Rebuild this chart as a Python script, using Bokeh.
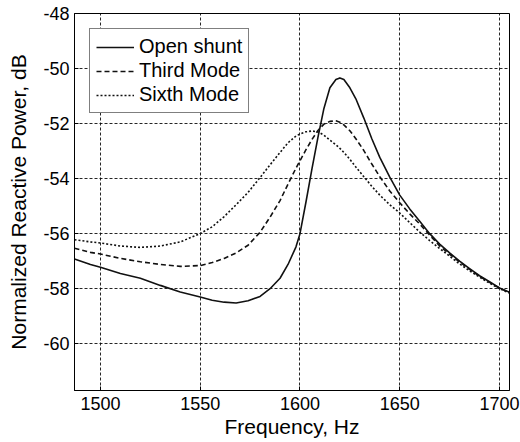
from bokeh.plotting import figure
from bokeh.models import FixedTicker, Range1d, Legend, LegendItem, CustomJSTickFormatter
from bokeh.embed import file_html
from bokeh.resources import INLINE

freq = [1487, 1495, 1500, 1510, 1520, 1530, 1540, 1550, 1556, 1562, 1568, 1574,
        1580, 1585, 1590, 1594, 1598, 1600, 1603, 1606, 1609, 1612, 1615, 1618,
        1620, 1622, 1625, 1628, 1632, 1636, 1640, 1645, 1650, 1655, 1660, 1665,
        1670, 1675, 1680, 1685, 1690, 1695, 1700, 1705]

open_shunt = [-56.92, -57.12, -57.22, -57.45, -57.62, -57.88, -58.12, -58.30, -58.42, -58.49, -58.52, -58.44,
              -58.28, -58.00, -57.62, -57.12, -56.48, -56.00, -54.85, -53.65, -52.50, -51.45, -50.70, -50.40,
              -50.34, -50.40, -50.70, -51.10, -51.80, -52.55, -53.23, -53.95, -54.60, -55.10, -55.55, -56.00,
              -56.38, -56.70, -57.00, -57.27, -57.53, -57.75, -57.97, -58.13]

third_mode = [-56.53, -56.68, -56.74, -56.90, -57.02, -57.12, -57.19, -57.16, -57.05, -56.90, -56.70, -56.42,
              -55.95, -55.40, -54.80, -54.20, -53.62, -53.35, -52.95, -52.58, -52.25, -52.02, -51.92, -51.90,
              -51.95, -52.05, -52.26, -52.55, -52.98, -53.47, -53.93, -54.45, -54.88, -55.28, -55.65, -56.05,
              -56.45, -56.75, -57.03, -57.30, -57.55, -57.77, -57.98, -58.14]

sixth_mode = [-56.22, -56.30, -56.34, -56.45, -56.50, -56.45, -56.30, -56.00, -55.75, -55.38, -54.95, -54.50,
              -53.96, -53.50, -53.05, -52.70, -52.45, -52.38, -52.30, -52.27, -52.30, -52.42, -52.60, -52.77,
              -52.90, -53.05, -53.30, -53.58, -53.93, -54.28, -54.60, -54.95, -55.25, -55.60, -55.94, -56.25,
              -56.54, -56.82, -57.10, -57.35, -57.58, -57.80, -58.00, -58.16]

x_ticks = [1500, 1550, 1600, 1650, 1700]
y_ticks = [-60, -58, -56, -54, -52, -50, -48]

FONT = "Liberation Sans"

p = figure(width=520, height=442, output_backend="svg", toolbar_location=None,
           x_range=Range1d(1487, 1705), y_range=Range1d(-61.7, -48),
           min_border_left=74, min_border_right=11, min_border_top=13, min_border_bottom=52)
p.background_fill_color = "white"
p.border_fill_color = "white"
p.outline_line_color = "black"
p.outline_line_width = 1

r1 = p.line(freq, open_shunt, line_color="#111111", line_width=1.6, line_join="round")
r2 = p.line(freq, third_mode, line_color="#111111", line_width=1.6, line_dash="5 3", line_join="round")
r3 = p.line(freq, sixth_mode, line_color="#111111", line_width=1.6, line_dash="2 2", line_join="round")

for ax in (p.xaxis[0], p.yaxis[0]):
    ax.axis_line_color = "black"
    ax.major_tick_line_color = "black"
    ax.major_tick_in = 4
    ax.major_tick_out = 0
    ax.minor_tick_line_color = None
    ax.major_label_text_font = FONT
    ax.major_label_text_font_size = "18px"
    ax.major_label_text_color = "black"
    ax.axis_label_text_font = FONT
    ax.axis_label_text_font_size = "21px"
    ax.axis_label_text_font_style = "normal"
    ax.axis_label_text_color = "black"
    ax.formatter = CustomJSTickFormatter(code="return String(tick);")

p.xaxis.ticker = FixedTicker(ticks=x_ticks)
p.yaxis.ticker = FixedTicker(ticks=y_ticks)
p.xaxis.axis_label = "Frequency, Hz"
p.yaxis.axis_label = "Normalized Reactive Power, dB"
p.xaxis.major_label_standoff = 6
p.xaxis.axis_label_standoff = 2
p.yaxis.major_label_standoff = 5
p.yaxis.axis_label_standoff = 10

for g in (p.xgrid[0], p.ygrid[0]):
    g.grid_line_color = "black"
    g.grid_line_dash = "3 2"
    g.grid_line_width = 1
    g.grid_line_alpha = 0.85
p.xgrid.ticker = FixedTicker(ticks=x_ticks)
p.ygrid.ticker = FixedTicker(ticks=y_ticks)

legend = Legend(items=[LegendItem(label="Open shunt", renderers=[r1]),
                       LegendItem(label="Third Mode", renderers=[r2]),
                       LegendItem(label="Sixth Mode", renderers=[r3])],
                location="top_left")
legend.margin = 15
legend.padding = 6
legend.spacing = 1
legend.glyph_width = 38
legend.glyph_height = 20
legend.label_height = 20
legend.label_standoff = 5
legend.label_text_font = FONT
legend.label_text_font_size = "20px"
legend.label_text_color = "black"
legend.border_line_color = "black"
legend.border_line_width = 1
legend.background_fill_color = "white"
legend.background_fill_alpha = 1
p.add_layout(legend)

open("out.html", "w").write(file_html(p, INLINE))
